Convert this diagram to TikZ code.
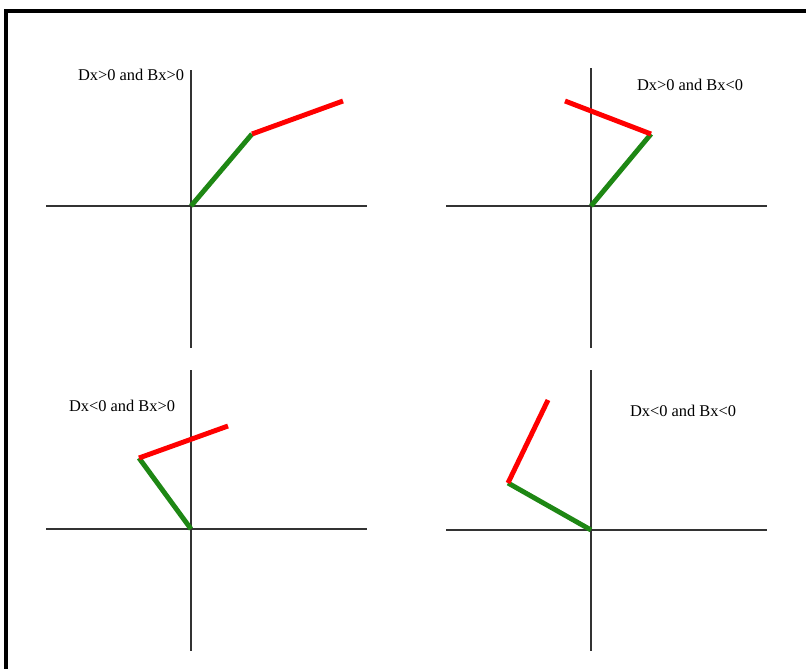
\documentclass[tikz,border=0pt]{standalone}
\usepackage{fontspec}
\setmainfont{Liberation Serif}
\definecolor{armgreen}{RGB}{30,135,20}
\tikzset{
  axis/.style={draw,line width=1.6pt,color=black!80},
  arm/.style={draw,line width=4.2pt,color=armgreen},
  fore/.style={draw,line width=4.2pt,color=red},
  case/.style={font=\fontsize{14}{16}\selectfont,inner sep=0pt}
}
\begin{document}
\begin{tikzpicture}[x=0.03cm,y=-0.03cm]
\useasboundingbox (0,0) rectangle (806,669);
\draw[line width=2.6pt] (6,672) -- (6,11) -- (810,11);

% Dx>0, Bx>0
\coordinate (o1) at (191,206);
\coordinate (d1) at (252,134);
\coordinate (b1) at (343,101);
\path[axis] (46,206) -- (367,206);
\path[axis] (191,70) -- (191,348);
\node[case] (t1) at (131,75) {Dx>0 and Bx>0};
\path[arm] (o1) -- (d1);
\path[fore] (d1) -- (b1);

% Dx>0, Bx<0
\coordinate (o2) at (591,206);
\coordinate (d2) at (651,134);
\coordinate (b2) at (565,101);
\path[axis] (446,206) -- (767,206);
\path[axis] (591,68) -- (591,348);
\node[case] (t2) at (690,85) {Dx>0 and Bx<0};
\path[arm] (o2) -- (d2);
\path[fore] (d2) -- (b2);

% Dx<0, Bx>0
\coordinate (o3) at (191,529);
\coordinate (d3) at (139,458);
\coordinate (b3) at (228,426);
\path[axis] (46,529) -- (367,529);
\path[axis] (191,370) -- (191,651);
\node[case] (t3) at (122,406) {Dx<0 and Bx>0};
\path[arm] (o3) -- (d3);
\path[fore] (d3) -- (b3);

% Dx<0, Bx<0
\coordinate (o4) at (591,530);
\coordinate (d4) at (508,483);
\coordinate (b4) at (548,400);
\path[axis] (446,530) -- (767,530);
\path[axis] (591,370) -- (591,651);
\node[case] (t4) at (683,411) {Dx<0 and Bx<0};
\path[arm] (o4) -- (d4);
\path[fore] (d4) -- (b4);
\end{tikzpicture}
\end{document}
